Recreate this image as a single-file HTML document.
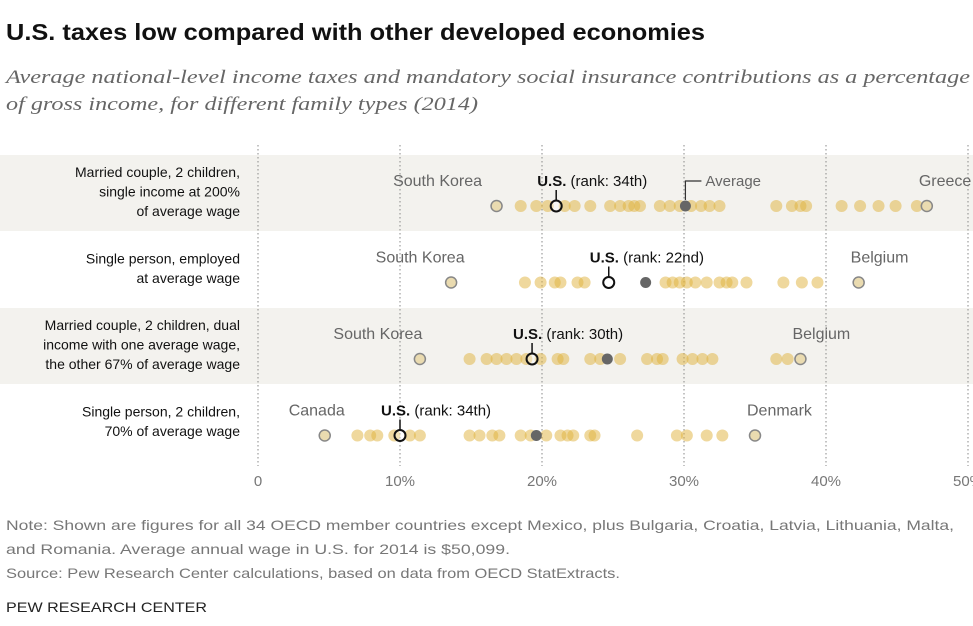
<!DOCTYPE html>
<html><head><meta charset="utf-8"><style>
body{margin:0;background:#fff;width:973px;height:621px;overflow:hidden;font-family:"Liberation Sans",sans-serif}
svg text{font-family:"Liberation Sans",sans-serif}
</style></head><body>
<svg width="973" height="621">
<text x="6" y="40" font-size="23" font-weight="bold" fill="#111" textLength="699" lengthAdjust="spacingAndGlyphs">U.S. taxes low compared with other developed economies</text>
<text x="6" y="83" font-size="19" font-style="italic" fill="#666" textLength="964" lengthAdjust="spacingAndGlyphs" style="font-family:'Liberation Serif',serif">Average national-level income taxes and mandatory social insurance contributions as a percentage</text>
<text x="6" y="110" font-size="19" font-style="italic" fill="#666" textLength="472" lengthAdjust="spacingAndGlyphs" style="font-family:'Liberation Serif',serif">of gross income, for different family types (2014)</text>
<g id="plot"></g>
<text x="6" y="530" font-size="14" fill="#777" textLength="948" lengthAdjust="spacingAndGlyphs">Note: Shown are figures for all 34 OECD member countries except Mexico, plus Bulgaria, Croatia, Latvia, Lithuania, Malta,</text>
<text x="6" y="554" font-size="14" fill="#777" textLength="504" lengthAdjust="spacingAndGlyphs">and Romania. Average annual wage in U.S. for 2014 is $50,099.</text>
<text x="6" y="578" font-size="14" fill="#777" textLength="614" lengthAdjust="spacingAndGlyphs">Source: Pew Research Center calculations, based on data from OECD StatExtracts.</text>
<text x="6" y="612" font-size="14" fill="#222" textLength="201" lengthAdjust="spacingAndGlyphs">PEW RESEARCH CENTER</text>
</svg>
<script>
const rowLabels=[["Married couple, 2 children,","single income at 200%","of average wage"],["Single person, employed","at average wage"],["Married couple, 2 children, dual","income with one average wage,","the other 67% of average wage"],["Single person, 2 children,","70% of average wage"]];
const others=[
[18.5,19.6,20.4,21.6,22.3,23.4,24.8,25.5,26.1,26.5,26.9,28.3,29.0,29.7,30.5,31.2,31.8,32.5,36.5,37.6,38.2,38.6,41.1,42.4,43.7,44.9,46.4],
[18.8,19.9,20.9,21.3,22.5,23.0,28.7,29.2,29.7,30.2,30.8,31.6,32.5,33.0,33.4,34.4,37.0,38.3,39.4],
[14.9,16.1,16.8,17.5,18.2,18.9,19.9,21.1,21.5,23.4,24.1,25.5,27.4,28.1,28.5,29.9,30.6,31.3,32.0,36.5,37.3],
[7.0,7.9,8.4,9.6,10.7,11.4,14.9,15.6,16.5,17.0,18.5,19.2,20.3,21.3,21.8,22.2,23.4,23.7,26.7,29.5,30.2,31.6,32.7]];
const usValues=[21.0,24.7,19.3,10.0];
const usRanks=["34th","22nd","30th","34th"];
const averages=[30.1,27.3,24.6,19.6];
const lowNames=["South Korea","South Korea","South Korea","Canada"];
const lowValues=[16.8,13.6,11.4,4.7];
const highNames=["Greece","Belgium","Belgium","Denmark"];
const highValues=[47.1,42.3,38.2,35.0];
const ticks=[0,10,20,30,40,50];
const lowLabelShift=[-59,-31,-42,-8];
const NS="http://www.w3.org/2000/svg";
const g=document.getElementById('plot');
const x=v=>258+v*14.2;
const rowTop=i=>155+i*76.5;
function mk(t,a,p){const e=document.createElementNS(NS,t);for(const k in a)e.setAttribute(k,a[k]);(p||g).appendChild(e);return e;}
rowLabels.forEach((L,i)=>{
 if(i%2==0){const b=mk('rect',{x:0,y:rowTop(i),width:973,height:76,fill:'#f3f2ee'});
 
 }
});
ticks.forEach(t=>{
 const l=mk('line',{x1:x(t),x2:x(t),y1:145,y2:466,stroke:'#888','stroke-dasharray':'1.5,2.5'});
 
 
 const tx=mk('text',{x:x(t),y:486,'font-size':15,fill:'#777','text-anchor':'middle'});tx.textContent=t+(t?'%':'');
 
 
});
rowLabels.forEach((L,i)=>{
 const top=rowTop(i),cy=top+51,ly=top+26;
 const n=L.length;
 L.forEach((s,j)=>{const t=mk('text',{x:240,y:(n==3?top+22:top+32)+j*19.5,'font-size':14,fill:'#111','text-anchor':'end'});t.textContent=s;
 
 });
 others[i].forEach(v=>{const c=mk('circle',{cx:x(v),cy:cy,r:6,fill:'#e0b23c','fill-opacity':0.5});
 
 });
 const lo=mk('circle',{cx:x(lowValues[i]),cy:cy,r:5.5,fill:'#eadbb0',stroke:'#888','stroke-width':1.5});
 
 
 const hi=mk('circle',{cx:x(highValues[i]),cy:cy,r:5.5,fill:'#eadbb0',stroke:'#888','stroke-width':1.5});
 
 
 const a=mk('circle',{cx:x(averages[i]),cy:cy,r:5.5,fill:'#666'});
 
 
 const u=mk('circle',{cx:x(usValues[i]),cy:cy,r:5.5,fill:'rgba(255,255,255,0.3)',stroke:'#111','stroke-width':2});
 
 
 const lt=mk('text',{x:x(lowValues[i])+lowLabelShift[i],y:ly+5,'font-size':16,fill:'#666','text-anchor':'middle'});lt.textContent=lowNames[i];
 
 
 const ht=mk('text',{x:x(highValues[i])-8,y:ly+5,'font-size':16,fill:'#666'});ht.textContent=highNames[i];
 
 
 const ul=mk('line',{x1:x(usValues[i]),x2:x(usValues[i]),y1:ly+9,y2:cy-6,stroke:'#111','stroke-width':1.5});
 
 
 const ut=mk('text',{x:x(usValues[i])-19,y:ly+5,'font-size':15,fill:'#111'});
 ut.innerHTML='<tspan font-weight="bold">U.S.</tspan> (rank: '+usRanks[i]+')';
 
 
 if(i==0){
  const al=mk('polyline',{points:`${x(averages[i])},${cy-6} ${x(averages[i])},${ly} ${x(averages[i])+16},${ly}`,fill:'none',stroke:'#333','stroke-width':1.2});
  
  
  const at=mk('text',{x:x(averages[i])+20,y:ly+5,'font-size':15,fill:'#666'});at.textContent='Average';
  
  
 }
});
</script>
</body></html>
